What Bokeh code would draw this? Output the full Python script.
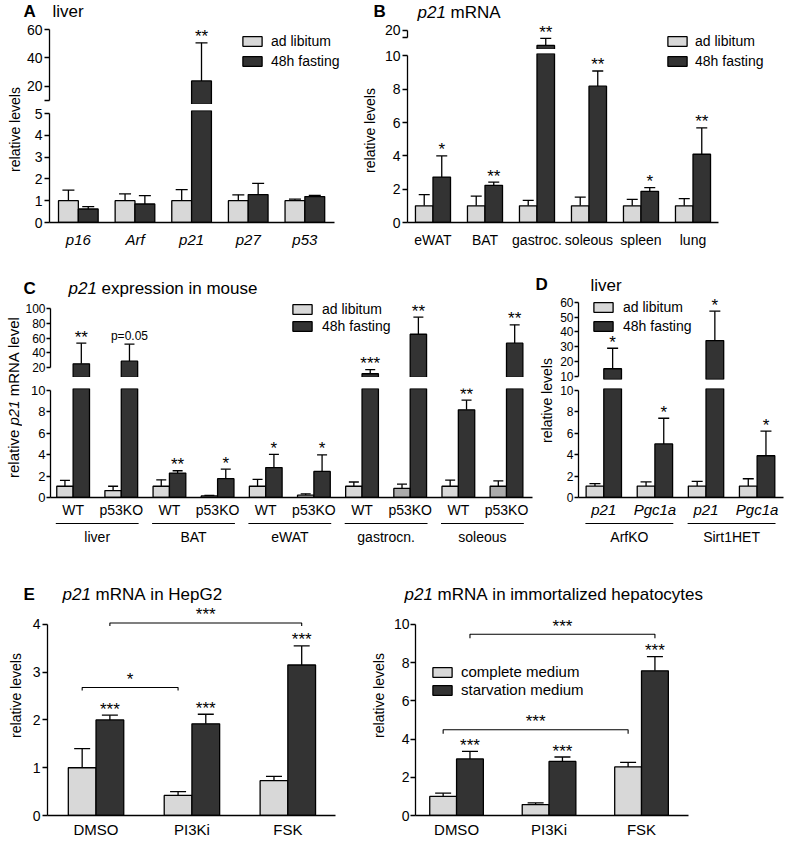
import math
from bokeh.plotting import figure
from bokeh.models import (Range1d, LinearAxis, FixedTicker, Whisker, TeeHead,
                          ColumnDataSource, Label, Legend, LegendItem)
from bokeh.layouts import row, column
from bokeh.core.properties import value, field
from bokeh.embed import file_html
from bokeh.resources import INLINE

FONT = "Liberation Sans"
LIGHT = "#d8d8d8"
MID = "#ababab"
DARK = "#333333"
LW = 1.3
INF = float("inf")

# ---------------- data ----------------
# A  liver
a_genes = ["p16", "Arf", "p21", "p27", "p53"]
a_adlib = [1.00, 1.00, 1.00, 1.00, 1.00]
a_adlib_sem = [0.49, 0.31, 0.51, 0.27, 0.07]
a_fast = [0.62, 0.85, 23.8, 1.28, 1.19]
a_fast_sem = [0.11, 0.38, 26.8, 0.52, 0.05]
a_fast_sig = ["", "", "**", "", ""]

# B  p21 mRNA in tissues
b_tissues = ["eWAT", "BAT", "gastroc.", "soleous", "spleen", "lung"]
b_adlib = [1.00, 1.00, 1.00, 1.00, 1.00, 1.00]
b_adlib_sem = [0.67, 0.59, 0.33, 0.53, 0.39, 0.43]
b_fast = [2.73, 2.23, 11.7, 8.19, 1.87, 4.10]
b_fast_sem = [1.27, 0.20, 3.9, 0.91, 0.22, 1.58]
b_fast_sig = ["*", "**", "**", "**", "*", "**"]

# C  p21 expression in mouse (WT / p53KO)
c_tissues = ["liver", "BAT", "eWAT", "gastrocn.", "soleous"]
c_genotypes = ["WT", "p53KO", "WT", "p53KO", "WT", "p53KO", "WT", "p53KO", "WT", "p53KO"]
c_adlib = [1.05, 0.65, 1.05, 0.15, 1.05, 0.22, 1.05, 0.85, 1.05, 1.05]
c_adlib_sem = [0.55, 0.40, 0.60, 0.04, 0.65, 0.12, 0.40, 0.40, 0.58, 0.50]
c_fast = [25.4, 28.9, 2.28, 1.76, 2.80, 2.44, 12.0, 65.0, 8.20, 53.0]
c_fast_sem = [27.6, 22.8, 0.22, 0.89, 1.24, 1.54, 5.7, 23.0, 0.90, 24.7]
c_fast_sig = ["**", "p=0.05", "**", "*", "*", "*", "***", "**", "**", "**"]
c_adlib_fill = [LIGHT, LIGHT, LIGHT, LIGHT, LIGHT, LIGHT, LIGHT, MID, LIGHT, MID]

# D  liver, ArfKO / Sirt1HET
d_genes = ["p21", "Pgc1a", "p21", "Pgc1a"]
d_strains = ["ArfKO", "Sirt1HET"]
d_adlib = [1.07, 1.07, 1.07, 1.07]
d_adlib_sem = [0.23, 0.38, 0.43, 0.68]
d_fast = [15.2, 5.0, 34.2, 3.9]
d_fast_sem = [13.8, 2.4, 19.8, 2.3]
d_fast_sig = ["*", "*", "*", "*"]

# E  cells
e_treatments = ["DMSO", "PI3Ki", "FSK"]
e1_complete = [1.00, 0.42, 0.73]
e1_complete_sem = [0.40, 0.08, 0.09]
e1_starved = [2.00, 1.92, 3.15]
e1_starved_sem = [0.10, 0.20, 0.40]
e1_sig = ["***", "***", "***"]
e1_brackets = [("complete", 0, "complete", 1, 2.68, "*"),
               ("starved", 0, "starved", 2, 4.03, "***")]
e2_complete = [1.00, 0.57, 2.54]
e2_complete_sem = [0.17, 0.09, 0.24]
e2_starved = [2.96, 2.83, 7.57]
e2_starved_sem = [0.40, 0.23, 0.74]
e2_sig = ["***", "***", "***"]
e2_brackets = [("starved", 0, "starved", 2, 9.48, "***"),
               ("complete", 0, "complete", 2, 4.49, "***")]

# ---------------- helpers ----------------
AFM = {' ': 278, '*': 389, '.': 278, '=': 584, 'a': 556, 'b': 556, 'c': 500, 'd': 556,
       'e': 556, 'f': 278, 'g': 556, 'h': 556, 'i': 222, 'j': 222, 'k': 500, 'l': 222,
       'm': 833, 'n': 556, 'o': 556, 'p': 556, 'q': 556, 'r': 333, 's': 500, 't': 278,
       'u': 556, 'v': 500, 'w': 722, 'x': 500, 'y': 500, 'z': 500, 'A': 667, 'B': 667,
       'C': 722, 'D': 722, 'E': 667, 'F': 611, 'G': 778, 'H': 722, 'I': 278, 'K': 667,
       'L': 556, 'M': 833, 'N': 722, 'O': 778, 'P': 667, 'R': 722, 'S': 667, 'T': 611,
       'W': 944}


def tw(s, fs):
    return sum(AFM.get(ch, 556) for ch in s) * fs / 1000.0


def make_fig(w, h, xr, yr, bl=0, br=0, bt=0, bb=0):
    xr = xr if isinstance(xr, Range1d) else Range1d(*xr)
    yr = yr if isinstance(yr, Range1d) else Range1d(*yr)
    p = figure(width=w, height=h, x_range=xr, y_range=yr, x_axis_type=None, y_axis_type=None,
               output_backend="svg", toolbar_location=None,
               min_border_left=bl, min_border_right=br, min_border_top=bt, min_border_bottom=bb)
    p.outline_line_color = None
    p.background_fill_color = "white"
    p.border_fill_color = "white"
    p.title.visible = False
    return p


def text_fig(w, h):
    return make_fig(w, h, (0, 1), (0, 1))


def add_yaxis(p, ticks, bounds, fs, overrides=None, tick_out=5, standoff=2):
    ax = LinearAxis(ticker=FixedTicker(ticks=ticks), bounds=bounds)
    ax.axis_line_color = "black"
    ax.axis_line_width = LW
    ax.major_tick_line_color = "black"
    ax.major_tick_line_width = LW
    ax.major_tick_out = tick_out
    ax.major_tick_in = 0
    ax.minor_tick_line_color = None
    ax.major_label_text_font = FONT
    ax.major_label_text_font_size = f"{fs}px"
    ax.major_label_text_color = "black"
    ax.major_label_standoff = standoff
    if overrides:
        ax.major_label_overrides = overrides
    p.add_layout(ax, "left")


def add_xaxis(p, labels, fs, standoff, bounds, italic=False):
    ax = LinearAxis(ticker=FixedTicker(ticks=list(range(len(labels)))), bounds=bounds,
                    major_label_overrides={i: t for i, t in enumerate(labels)})
    ax.axis_line_color = "black"
    ax.axis_line_width = LW
    ax.major_tick_line_color = None
    ax.major_tick_out = 0
    ax.major_tick_in = 0
    ax.minor_tick_line_color = None
    ax.major_label_text_font = FONT
    ax.major_label_text_font_size = f"{fs}px"
    ax.major_label_text_color = "black"
    ax.major_label_text_font_style = "italic" if italic else "normal"
    ax.major_label_standoff = standoff
    p.add_layout(ax, "below")


def positions(n, bw):
    return [i - bw / 2 for i in range(n)], [i + bw / 2 for i in range(n)]


def vbars(p, xs, vals, bw, fills, idx=None):
    fl = fills if isinstance(fills, list) else [fills] * len(xs)
    if idx is None:
        idx = list(range(len(xs)))
    if not idx:
        return None
    return p.vbar(x=[xs[i] for i in idx], top=[vals[i] for i in idx], bottom=0, width=bw,
                  fill_color=[fl[i] for i in idx], line_color="black", line_width=LW)


def errs(p, xs, vals, sems, keep, cap, sigs=None):
    idx = [i for i in range(len(xs)) if keep(vals[i], vals[i] + sems[i])]
    if idx:
        src = ColumnDataSource(dict(x=[xs[i] for i in idx], lo=[vals[i] for i in idx],
                                    hi=[vals[i] + sems[i] for i in idx]))
        p.add_layout(Whisker(source=src, base="x", lower="lo", upper="hi",
                             line_color="black", line_width=LW,
                             upper_head=TeeHead(size=cap, line_color="black", line_width=LW),
                             lower_head=None))
    if sigs:
        ids = [i for i in idx if sigs[i]]
        if ids:
            src = ColumnDataSource(dict(
                x=[xs[i] for i in ids], y=[vals[i] + sems[i] for i in ids],
                t=[sigs[i] for i in ids],
                fs=["17px" if sigs[i].startswith("*") else "12px" for i in ids],
                yo=[-6 if sigs[i].startswith("*") else -8 for i in ids]))
            p.text(x="x", y="y", text="t", source=src, text_font=value(FONT),
                   text_font_size=field("fs"), y_offset="yo", text_align="center",
                   text_baseline="alphabetic", text_color="black")


def panel_bars(p, ad, fast, ad_sem, fast_sem, sig, bw, cap, part, split, ad_fill=LIGHT):
    """part = 'bottom': all bars, errors up to split.
       part = 'top': only the bars that run past the axis break."""
    xa, xb = positions(len(ad), bw)
    if part == "bottom":
        ra = vbars(p, xa, ad, bw, ad_fill)
        rb = vbars(p, xb, fast, bw, DARK)
        keep_err = lambda lo, hi: hi <= split
    else:
        vbars(p, xa, ad, bw, ad_fill, [i for i in range(len(ad)) if ad[i] > split])
        vbars(p, xb, fast, bw, DARK, [i for i in range(len(fast)) if fast[i] > split])
        # hidden copies of the two series, used only as legend keys
        ra = p.vbar(x=xa, top=ad, bottom=0, width=bw, fill_color=LIGHT, line_color="black",
                    line_width=LW, visible=False)
        rb = p.vbar(x=xb, top=fast, bottom=0, width=bw, fill_color=DARK, line_color="black",
                    line_width=LW, visible=False)
        keep_err = lambda lo, hi: lo > split
    errs(p, xa, ad, ad_sem, keep_err, cap)
    errs(p, xb, fast, fast_sem, keep_err, cap, sig)
    return xa, xb, ra, rb


def legend(p, entries, vx, vy, fs, spacing, standoff):
    items = [LegendItem(label=lab, renderers=[r], index=0) for lab, r in entries]
    lg = Legend(items=items, location=(vx, vy), orientation="vertical", padding=0, margin=0,
                spacing=spacing, glyph_width=24, glyph_height=12, label_height=12,
                label_standoff=standoff, label_text_font=FONT, label_text_font_size=f"{fs}px",
                label_text_color="black", border_line_color=None, background_fill_alpha=0,
                inactive_fill_alpha=0)
    p.add_layout(lg, "center")


def put(p, frame, ix, iy, text, fs, style="normal", align="left", angle=0.0):
    fl, fb = frame
    p.add_layout(Label(x=ix - fl, y=fb - iy, x_units="screen", y_units="screen", text=text,
                       text_font=FONT, text_font_size=f"{fs}px", text_font_style=style,
                       text_align=align, text_baseline="middle", angle=angle,
                       text_color="black"))


def put_rich(p, frame, ix, iy, parts, fs, rotated=False, gap=1.0):
    off = 0.0
    for t, st in parts:
        if rotated:
            put(p, frame, ix, iy - off, t, fs, st, angle=math.pi / 2)
        else:
            put(p, frame, ix + off, iy, t, fs, st)
        off += tw(t, fs) + gap * tw(" ", fs)


def group_labels(p, groups, fs):
    n = len(groups)
    p.segment(x0=[2 * g - 0.36 for g in range(n)], y0=[3] * n,
              x1=[2 * g + 1.36 for g in range(n)], y1=[3] * n,
              line_color="black", line_width=1.1)
    p.text(x=[2 * g + 0.5 for g in range(n)], y=[16] * n, text=groups,
           text_font=value(FONT), text_font_size=f"{fs}px", text_align="center",
           text_baseline="middle", text_color="black")


ROT = math.pi / 2

# ---------------- panel A ----------------
A_title = text_fig(358, 21)
put(A_title, (0, 21), 23, 11, "A", 17, "bold")
put(A_title, (0, 21), 52, 11, "liver", 17)

A_x = Range1d(-0.509, 4.947)
A_top = make_fig(335, 83, A_x, (7.2, 65.63), 24, 0, 0, 0)
add_yaxis(A_top, [10, 20, 40, 60], (10, 60), 14, {10: ""})
_, _, ra, rb = panel_bars(A_top, a_adlib, a_fast, a_adlib_sem, a_fast_sem, a_fast_sig,
                          0.35, 12, "top", 5.14)
legend(A_top, [("ad libitum", ra), ("48h fasting", rb)], 191, 35, 14, 4, 7)

A_bot = make_fig(335, 160, A_x, (0, 5.14), 24, 0, 6, 42)
add_yaxis(A_bot, [0, 1, 2, 3, 4, 5], (0, 5), 14)
add_xaxis(A_bot, a_genes, 15, 8, (-0.509, 4.526), italic=True)
panel_bars(A_bot, a_adlib, a_fast, a_adlib_sem, a_fast_sem, a_fast_sig, 0.35, 12, "bottom", 5.14)

strip_A = text_fig(23, 243)
put(strip_A, (0, 264), 14, 129, "relative levels", 14, align="center", angle=ROT)

# ---------------- panel B ----------------
B_title = text_fig(428, 21)
put(B_title, (358, 21), 373, 11, "B", 17, "bold")
put_rich(B_title, (358, 21), 417, 12, [("p21", "italic"), ("mRNA", "normal")], 17)

B_x = Range1d(-0.49, 6.798)
B_top = make_fig(406, 28, B_x, (9.44, 25.0), 27, 0, 0, 0)
add_yaxis(B_top, [16, 20], (16, 20), 14, {16: ""})
_, _, ra, rb = panel_bars(B_top, b_adlib, b_fast, b_adlib_sem, b_fast_sem, b_fast_sig,
                          0.337, 11, "top", 10.15)
legend(B_top, [("ad libitum", ra)], 258, 0, 14, 0, 6)

B_bot = make_fig(406, 215, B_x, (0, 10.15), 27, 0, 4, 42)
add_yaxis(B_bot, [0, 2, 4, 6, 8, 10], (0, 10), 14)
add_xaxis(B_bot, b_tissues, 14, 9, (-0.49, 5.49))
_, _, ra, rb = panel_bars(B_bot, b_adlib, b_fast, b_adlib_sem, b_fast_sem, b_fast_sig,
                          0.337, 11, "bottom", 10.15)
legend(B_bot, [("48h fasting", rb)], 258, 153, 14, 0, 6)

strip_B = text_fig(22, 243)
put(strip_B, (358, 264), 369, 130, "relative levels", 14, align="center", angle=ROT)

# ---------------- panel C ----------------
C_title = text_fig(533, 34)
put(C_title, (0, 298), 23, 288, "C", 17, "bold")
put_rich(C_title, (0, 298), 68, 288,
         [("p21", "italic"), ("expression", "normal"), ("in", "normal"), ("mouse", "normal")], 17)

C_x = Range1d(-0.47, 9.54)
C_top = make_fig(511, 79, C_x, (7.0, 113.0), 26, 1, 0, 0)
add_yaxis(C_top, [20, 40, 60, 80, 100], (20, 100), 12, tick_out=4, standoff=1)
_, _, ra, rb = panel_bars(C_top, c_adlib, c_fast, c_adlib_sem, c_fast_sem, c_fast_sig,
                          0.34, 10, "top", 10.19, c_adlib_fill)
legend(C_top, [("ad libitum", ra), ("48h fasting", rb)], 240, 43, 14, 1, 8)

C_bot = make_fig(511, 143, C_x, (0, 10.19), 26, 1, 11, 22)
add_yaxis(C_bot, [0, 2, 4, 6, 8, 10], (0, 10), 13, tick_out=4, standoff=1)
add_xaxis(C_bot, c_genotypes, 14, 4, (-0.47, 9.54))
panel_bars(C_bot, c_adlib, c_fast, c_adlib_sem, c_fast_sem, c_fast_sig, 0.34, 10, "bottom", 10.19,
           c_adlib_fill)

C_lab = make_fig(511, 55, C_x, (55, 0), 26, 1, 0, 0)
group_labels(C_lab, c_tissues, 14)

strip_C = text_fig(22, 277)
c_parts = [("relative", "normal"), ("p21", "italic"), ("mRNA", "normal"), ("level", "normal")]
c_total = sum(tw(t, 15) for t, _ in c_parts) + 4 * tw(" ", 15)
put_rich(strip_C, (0, 575), 13, 395 + c_total / 2, c_parts, 15, rotated=True)

# ---------------- panel D ----------------
D_title = text_fig(253, 30)
put(D_title, (533, 294), 535, 284, "D", 17, "bold")
put(D_title, (533, 294), 590, 285, "liver", 17)

D_x = Range1d(-0.495, 3.575)
D_top = make_fig(230, 89, D_x, (7.98, 65.2), 22, 0, 0, 4)
add_yaxis(D_top, [10, 20, 30, 40, 50, 60], (10, 60), 12, tick_out=4, standoff=1)
_, _, ra, rb = panel_bars(D_top, d_adlib, d_fast, d_adlib_sem, d_fast_sem, d_fast_sig,
                          0.346, 11, "top", 10.18)
legend(D_top, [("ad libitum", ra), ("48h fasting", rb)], 13, 45, 14, 3, 8)

D_bot = make_fig(230, 137, D_x, (0, 10.18), 22, 0, 5, 21)
add_yaxis(D_bot, [0, 2, 4, 6, 8, 10], (0, 10), 12, tick_out=4, standoff=1)
add_xaxis(D_bot, d_genes, 15, 3, (-0.495, 3.52), italic=True)
panel_bars(D_bot, d_adlib, d_fast, d_adlib_sem, d_fast_sem, d_fast_sig, 0.346, 11, "bottom", 10.18)

D_lab = make_fig(230, 55, D_x, (55, 0), 22, 0, 0, 0)
group_labels(D_lab, d_strains, 14)

strip_D = text_fig(23, 281)
put(strip_D, (533, 575), 546, 400, "relative levels", 14, align="center", angle=ROT)


# ---------------- panel E ----------------
def brackets(p, blist, xa, xb, drop):
    xs, ys, lx, ly, lt = [], [], [], [], []
    for s1, i1, s2, i2, h, lab in blist:
        x1 = (xa if s1 == "complete" else xb)[i1]
        x2 = (xa if s2 == "complete" else xb)[i2]
        xs.append([x1, x1, x2, x2])
        ys.append([h - drop, h, h, h - drop])
        lx.append((x1 + x2) / 2)
        ly.append(h)
        lt.append(lab)
    p.multi_line(xs, ys, line_color="black", line_width=1.1)
    p.text(x=lx, y=ly, text=lt, text_font=value(FONT), text_font_size="17px",
           text_align="center", text_baseline="alphabetic", y_offset=-8, text_color="black")


E_title = text_fig(786, 29)
put(E_title, (0, 604), 23, 594, "E", 17, "bold")
put_rich(E_title, (0, 604), 62, 594, [("p21", "italic"), ("mRNA", "normal"), ("in", "normal"),
                                      ("HepG2", "normal")], 17)
put_rich(E_title, (0, 604), 404, 594, [("p21", "italic"), ("mRNA", "normal"), ("in", "normal"),
                                       ("immortalized", "normal"), ("hepatocytes", "normal")], 17)

E1_x = (-0.506, 2.497)
E1 = make_fig(344, 236, E1_x, (0, 4.417), 23, 33, 0, 24)
add_yaxis(E1, [0, 1, 2, 3, 4], (0, 4), 14)
add_xaxis(E1, e_treatments, 15, 5, E1_x)
xa, xb, _, _ = panel_bars(E1, e1_complete, e1_starved, e1_complete_sem, e1_starved_sem, e1_sig,
                          0.289, 16, "bottom", INF)
brackets(E1, e1_brackets, xa, xb, 3 / 48.0)

E2_x = (-0.444, 2.508)
E2 = make_fig(396, 236, E2_x, (0, 11.04), 22, 98, 0, 24)
add_yaxis(E2, [0, 2, 4, 6, 8, 10], (0, 10), 14, standoff=1)
add_xaxis(E2, e_treatments, 15, 5, E2_x)
xa, xb, ra, rb = panel_bars(E2, e2_complete, e2_starved, e2_complete_sem, e2_starved_sem, e2_sig,
                            0.29, 16, "bottom", INF)
brackets(E2, e2_brackets, xa, xb, 4 / 19.2)
legend(E2, [("complete medium", ra), ("starvation medium", rb)], 15, 117, 15, 1, 7)

strip_E1 = text_fig(24, 236)
put(strip_E1, (0, 840), 15, 720, "relative levels", 14, align="center", angle=ROT)
strip_E2 = text_fig(22, 236)
put(strip_E2, (368, 840), 378, 720, "relative levels", 14, align="center", angle=ROT)

# ---------------- layout ----------------
col_A = column(A_title, row(strip_A, column(A_top, A_bot)))
col_B = column(B_title, row(strip_B, column(B_top, B_bot)))
col_C = column(C_title, row(strip_C, column(C_top, C_bot, C_lab)))
col_D = column(D_title, row(strip_D, column(D_top, D_bot, D_lab)))
row3 = column(E_title, row(strip_E1, E1, strip_E2, E2))
layout = column(row(col_A, col_B), row(col_C, col_D), row3)

open("out.html", "w").write(file_html(layout, INLINE))
